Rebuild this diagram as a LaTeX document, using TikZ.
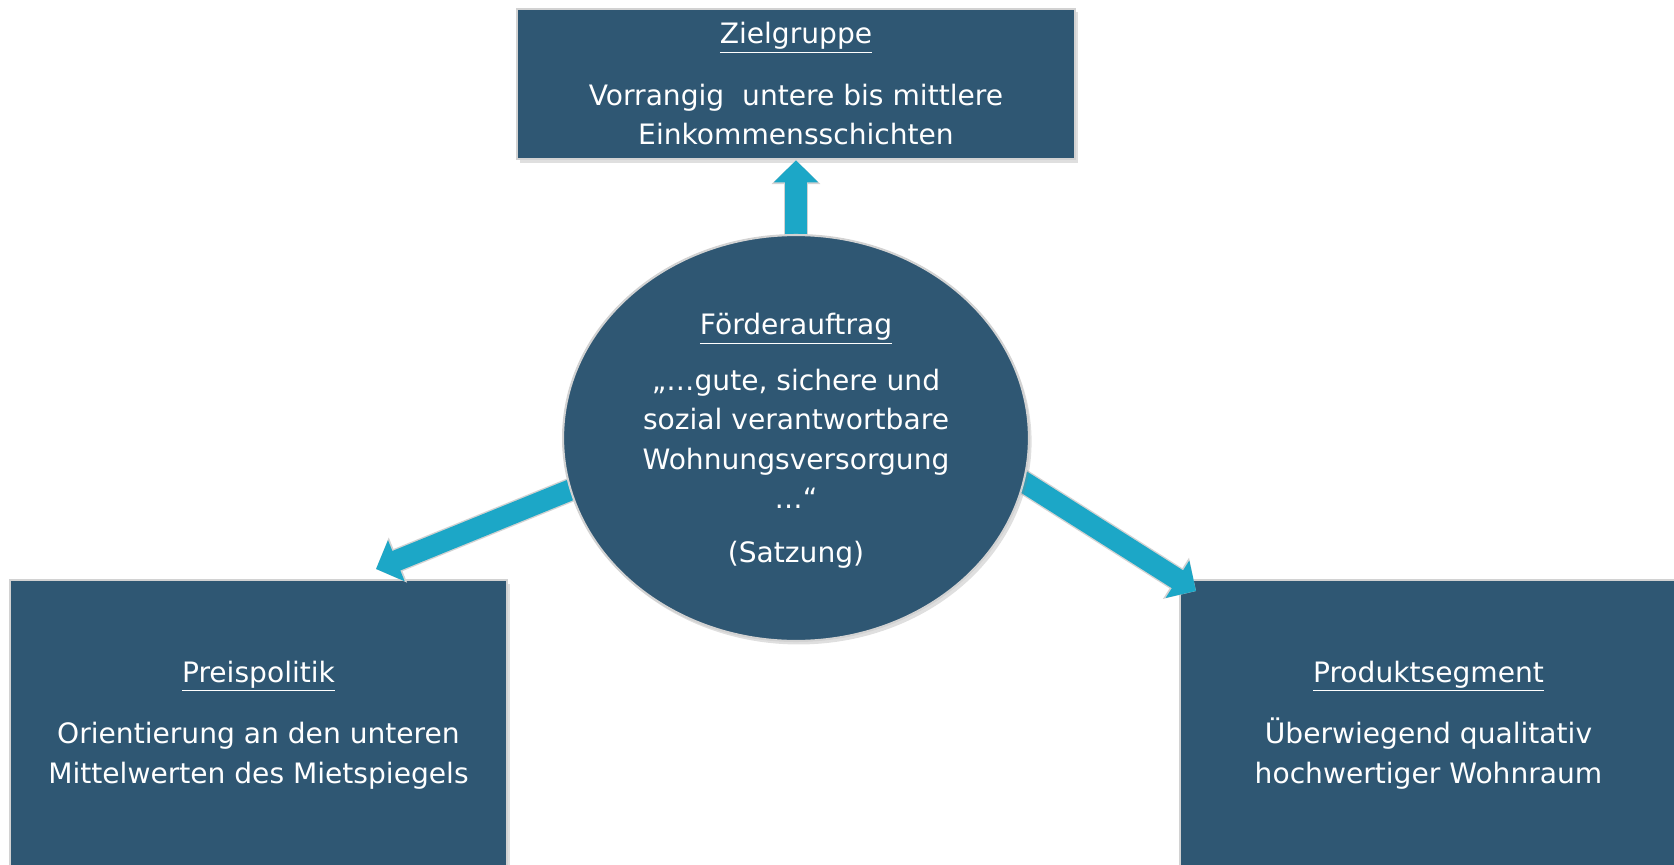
\documentclass[tikz,border=0pt]{standalone}
\usepackage{fontspec}
\setmainfont{DejaVu Sans}
\usetikzlibrary{shapes.geometric, arrows.meta, shadows}
\definecolor{slate}{HTML}{2F5773}
\definecolor{flowblue}{HTML}{1CA7C7}
\colorlet{rim}{gray!35}
\pgfdeclarelayer{boxes}
\pgfdeclarelayer{links}
\pgfsetlayers{boxes,links,main}
\tikzstyle{label text}=[text=white, align=center, font=\fontsize{16}{22.5}\selectfont]
\tikzstyle{block}=[label text, fill=slate, draw=rim, line width=1.2pt, inner sep=0,
  drop shadow={opacity=0.25, shadow xshift=1.5pt, shadow yshift=-2pt}]
\tikzstyle{block box}=[block, rectangle]
\tikzstyle{block oval}=[block, ellipse]
\tikzstyle{flow}=[line width=12pt, flowblue, -{Triangle[width=24.5pt, length=12.5pt]},
  preaction={draw=rim, line width=13.6pt, -{Triangle[width=27pt, length=13.5pt]}}]

\begin{document}
\begin{tikzpicture}[x=0.02cm, y=-0.02cm]
  \useasboundingbox (0,0) rectangle (1674,865);

  % BOXES
  \begin{pgfonlayer}{boxes}
    \node[block box, minimum width=11.16cm, minimum height=3.01cm] (zg) at (796,84)
      {\underline{Zielgruppe}\\[12.5pt]
       Vorrangig\ \ untere bis mittlere\\ Einkommensschichten};
    \node[block box, minimum width=9.94cm, minimum height=5.8cm] (pp) at (258.5,725)
      {\underline{Preispolitik}\\[12.5pt]
       Orientierung an den unteren\\ Mittelwerten des Mietspiegels};
    \node[block box, minimum width=9.94cm, minimum height=5.8cm] (ps) at (1428.5,725)
      {\underline{Produktsegment}\\[12.5pt]
       Überwiegend qualitativ\\ hochwertiger Wohnraum};
  \end{pgfonlayer}

  % CENTRE
  \node[block oval, minimum width=9.32cm, minimum height=8.12cm] (fa) at (796,438) {};
  \node[label text] (fa-text) at (796,441)
    {\underline{Förderauftrag}\\[9pt]
     „…gute, sichere und\\ sozial verantwortbare\\ Wohnungsversorgung\\ …“\\[8pt]
     (Satzung)};

  % ARROWS
  \coordinate (pp-tip) at (376,569);
  \coordinate (ps-tip) at (1196,591);
  \begin{pgfonlayer}{links}
    \draw[flow, shorten <=-10pt] (fa.north) -- (zg.south);
    \draw[flow, shorten <=-10pt] (fa.193) -- (pp-tip);
    \draw[flow, shorten <=-10pt] (fa.349) -- (ps-tip);
  \end{pgfonlayer}
\end{tikzpicture}
\end{document}
